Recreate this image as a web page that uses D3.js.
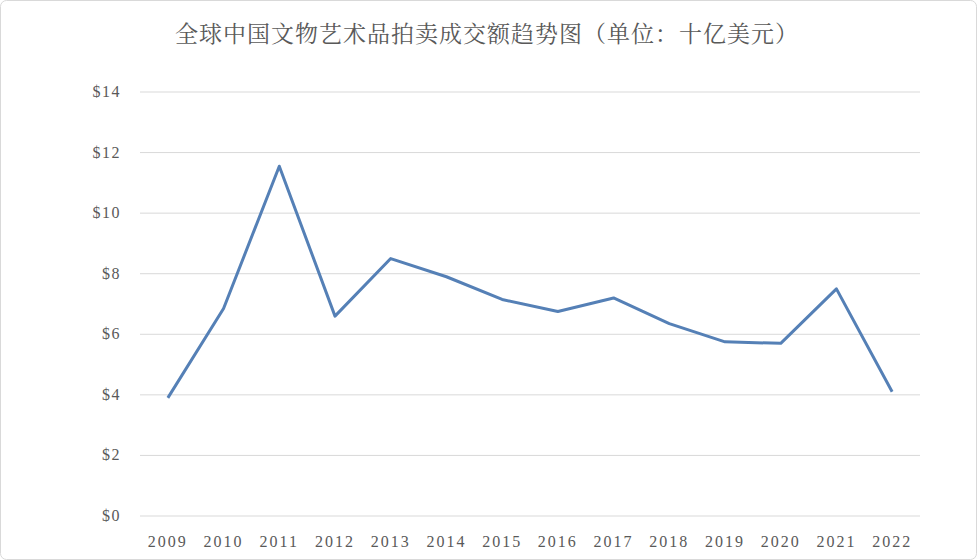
<!DOCTYPE html>
<html><head><meta charset="utf-8">
<script src="https://cdn.jsdelivr.net/npm/d3@7"></script>
<style>body{margin:0;background:#fff}</style></head>
<body><svg id="c" width="977" height="560"></svg>
<script>
const years = ["2009","2010","2011","2012","2013","2014","2015","2016","2017","2018","2019","2020","2021","2022"];
const values = [3.9,6.85,11.55,6.6,8.5,7.9,7.15,6.75,7.2,6.35,5.75,5.7,7.5,4.1];
const yTicks = [0,2,4,6,8,10,12,14];
const title = "全球中国文物艺术品拍卖成交额趋势图（单位：十亿美元）";

const svg = d3.select("#c");
svg.append("rect").attr("x",0.5).attr("y",0.5).attr("width",976).attr("height",559).attr("rx",6)
  .attr("fill","#fff").attr("stroke","#d9d9d9");
const L=140,R=920,T=92,B=516;
const x = d3.scaleBand().domain(years).range([L,R]);
const y = d3.scaleLinear().domain([0,14]).range([B,T]);
const serif = "'Liberation Serif','DejaVu Serif',serif";
svg.append("g").selectAll("line").data(yTicks).join("line")
  .attr("x1",L).attr("x2",R).attr("y1",d=>y(d)).attr("y2",d=>y(d))
  .attr("stroke","#d9d9d9").attr("stroke-width",1);
svg.append("g").selectAll("text").data(yTicks).join("text")
  .attr("x",121).attr("y",d=>y(d)+5).attr("text-anchor","end")
  .attr("font-family",serif).attr("font-size",16).attr("letter-spacing",1.5).attr("fill","#595959").text(d=>"$"+d);
svg.append("g").selectAll("text").data(years).join("text")
  .attr("x",d=>x(d)+x.bandwidth()/2).attr("y",547).attr("text-anchor","middle")
  .attr("font-family",serif).attr("font-size",16).attr("letter-spacing",2).attr("fill","#595959").text(d=>d);
svg.append("path").datum(values)
  .attr("d",d3.line().x((d,i)=>x(years[i])+x.bandwidth()/2).y(d=>y(d)))
  .attr("fill","none").attr("stroke","#5580b6").attr("stroke-width",3).attr("stroke-linejoin","round");
svg.append("text").attr("x",487).attr("y",42).attr("text-anchor","middle")
  .attr("font-family","'Noto Serif CJK SC','Noto Sans CJK SC',sans-serif").attr("font-size",23).attr("letter-spacing",1)
  .attr("fill","#595959").text(title);
</script></body></html>
